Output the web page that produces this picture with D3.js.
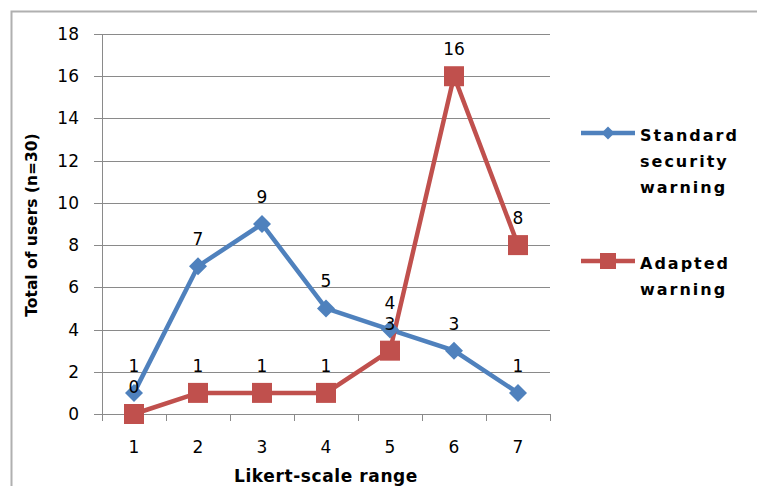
<!DOCTYPE html>
<html><head><meta charset="utf-8">
<script src="https://cdn.jsdelivr.net/npm/d3@7"></script>
<style>body{margin:0;background:#fff}svg{display:block}</style>
</head><body>
<script>
const categories = ["1","2","3","4","5","6","7"];
const standardValues = [1,7,9,5,4,3,1];
const adaptedValues = [0,1,1,1,3,16,8];
const yTicks = [0,2,4,6,8,10,12,14,16,18];
const seriesNames = [["Standard","security","warning"],["Adapted","warning"]];

const W=757,H=486;
const svg=d3.select("body").append("svg").attr("width",W).attr("height",H);
// outer border
svg.append("path").attr("d","M11.5,"+H+"V11.5H"+W).attr("fill","none").attr("stroke","#b0b0b0").attr("stroke-width",2);

const x=d3.scaleBand().domain(categories).range([102,550]);
const y=d3.scaleLinear().domain([0,18]).range([414,34]);
const font="Verdana, 'DejaVu Sans', sans-serif";

// gridlines
svg.append("g").selectAll("line").data(yTicks).join("line")
  .attr("x1",94).attr("x2",550).attr("y1",d=>Math.round(y(d))+0.5).attr("y2",d=>Math.round(y(d))+0.5)
  .attr("stroke","#8a8a8a").attr("stroke-width",1);
// y axis line
svg.append("line").attr("x1",102.5).attr("x2",102.5).attr("y1",34).attr("y2",414).attr("stroke","#8a8a8a");
// y tick labels
svg.append("g").selectAll("text").data(yTicks).join("text")
  .attr("x",79).attr("y",d=>y(d)+6).attr("text-anchor","end")
  .attr("font-family",font).attr("font-size",17).attr("fill","#000").text(d=>d);
// x ticks
const bounds=categories.map(c=>x(c)).concat([x.range()[1]]);
svg.append("g").selectAll("line").data(bounds).join("line")
  .attr("x1",d=>Math.round(d)+0.5).attr("x2",d=>Math.round(d)+0.5).attr("y1",414).attr("y2",421)
  .attr("stroke","#8a8a8a");
svg.append("g").selectAll("text").data(categories).join("text")
  .attr("x",d=>x(d)+x.bandwidth()/2).attr("y",453).attr("text-anchor","middle")
  .attr("font-family",font).attr("font-size",17).text(d=>d);
// axis titles
svg.append("text").attr("x",326).attr("y",482).attr("text-anchor","middle")
  .attr("font-family",font).attr("font-weight","bold").attr("font-size",17).attr("letter-spacing",0.6).text("Likert-scale range");
svg.append("text").attr("transform","translate(37,225) rotate(-90)").attr("text-anchor","middle")
  .attr("font-family",font).attr("font-weight","bold").attr("font-size",15.5).text("Total of users (n=30)");

const cx=d=>x(d)+x.bandwidth()/2;
const line=d3.line().x((d,i)=>cx(categories[i])).y(d=>y(d));
const blue="#4f81bd", red="#c0504d";

svg.append("path").datum(standardValues).attr("d",line).attr("fill","none").attr("stroke",blue).attr("stroke-width",4.5);
svg.append("path").datum(adaptedValues).attr("d",line).attr("fill","none").attr("stroke",red).attr("stroke-width",4.5);

const diamond=(px,py,r)=>`M${px},${py-r}L${px+r},${py}L${px},${py+r}L${px-r},${py}Z`;
svg.append("g").selectAll("path").data(standardValues).join("path")
  .attr("d",(d,i)=>diamond(cx(categories[i]),y(d),9)).attr("fill",blue);
svg.append("g").selectAll("rect").data(adaptedValues).join("rect")
  .attr("x",(d,i)=>cx(categories[i])-10).attr("y",d=>y(d)-10).attr("width",20).attr("height",20).attr("fill",red);

// data labels
[standardValues,adaptedValues].forEach(vals=>{
  svg.append("g").selectAll("text").data(vals).join("text")
    .attr("x",(d,i)=>cx(categories[i])).attr("y",d=>y(d)-21).attr("text-anchor","middle")
    .attr("font-family",font).attr("font-size",17).text(d=>d);
});

// legend
const leg=[{c:blue,y:133,m:"d",t:seriesNames[0]},{c:red,y:261,m:"s",t:seriesNames[1]}];
leg.forEach(l=>{
  svg.append("line").attr("x1",581).attr("x2",635).attr("y1",l.y).attr("y2",l.y).attr("stroke",l.c).attr("stroke-width",4.5);
  if(l.m==="d") svg.append("path").attr("d",diamond(608,l.y,6.5)).attr("fill",l.c);
  else svg.append("rect").attr("x",600).attr("y",l.y-8).attr("width",16).attr("height",16).attr("fill",l.c);
  l.t.forEach((s,j)=>svg.append("text").attr("x",640).attr("y",l.y+8+j*26)
    .attr("font-family",font).attr("font-weight","bold").attr("font-size",16).attr("letter-spacing",2).text(s));
});
</script>
</body></html>
